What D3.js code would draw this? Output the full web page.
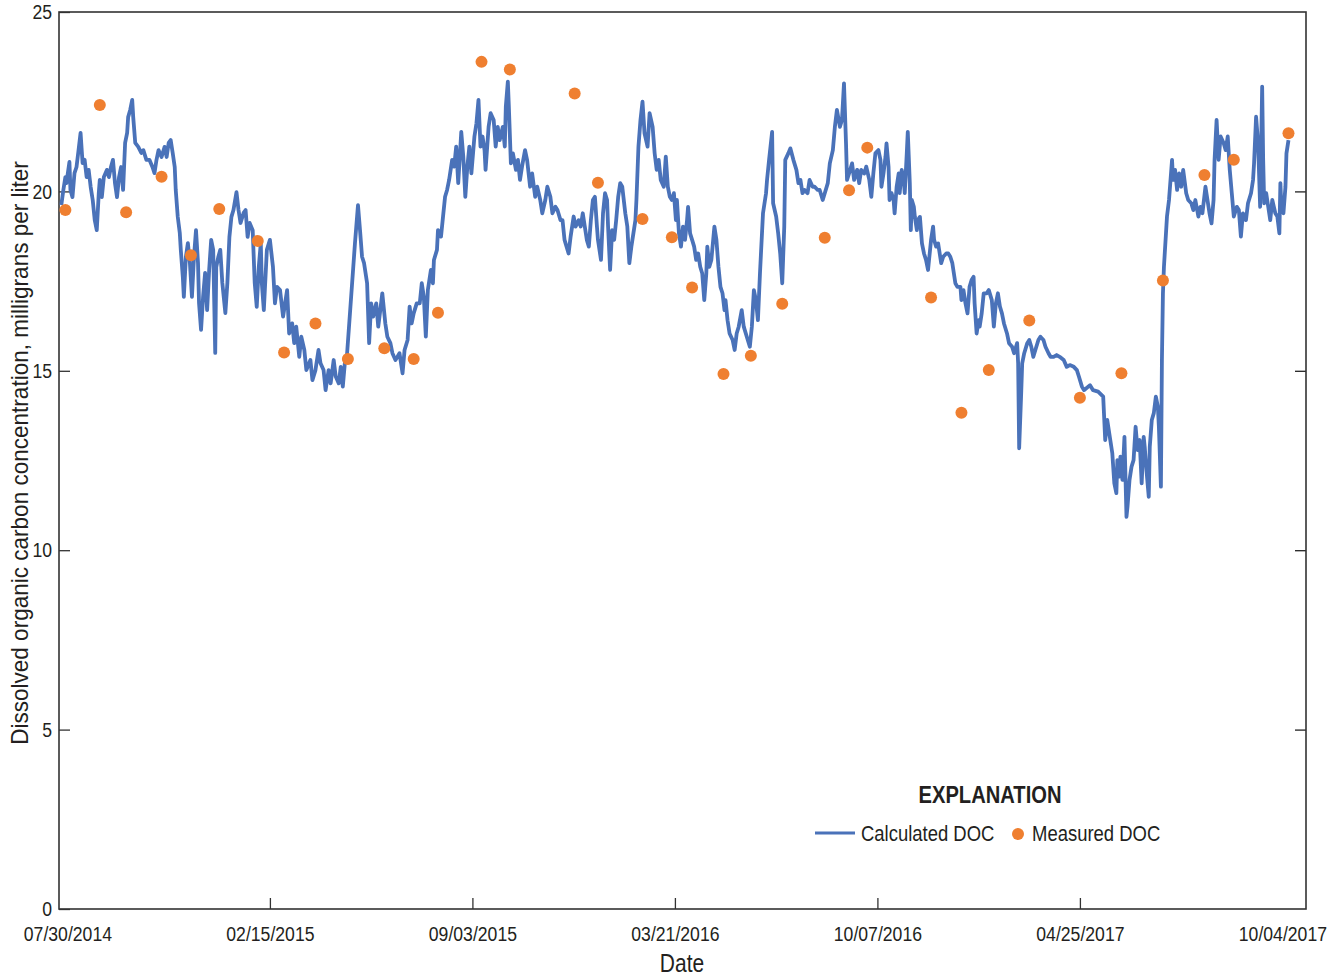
<!DOCTYPE html>
<html>
<head>
<meta charset="utf-8">
<script src="https://cdn.jsdelivr.net/npm/d3@7"></script>
<style>
  body { margin: 0; background: #fff; }
  svg text { font-family: "Liberation Sans", Arial, sans-serif; fill: #231f20; }
</style>
</head>
<body>
<script>
// day offsets are counted from 07/30/2014
var tickLabels = ["07/30/2014", "02/15/2015", "09/03/2015", "03/21/2016", "10/07/2016", "04/25/2017", "10/04/2017"];
var yTicks = [0, 5, 10, 15, 20, 25];

// calculated DOC, [day, mg/L]
var calculatedDoc = [
  [-6,19.62],[-4,20.04],[-2,20.40],[-1,20.23],[2,20.82],[3,20.04],[5,19.84],[7,20.51],[9,20.68],[11,21.15],[13,21.63],[15,20.79],[17,20.88],[19,20.40],[21,20.60],[23,20.12],[25,19.76],[27,19.20],[29,18.92],[31,19.96],[32,20.32],[34,19.84],[36,20.40],[39,20.60],[41,20.40],[43,20.68],[45,20.88],[47,20.23],[49,19.84],[51,20.40],[53,20.68],[55,20.04],[57,21.35],[59,21.63],[60,22.07],[62,22.27],[64,22.55],[65,22.07],[67,21.35],[70,21.24],[73,21.07],[75,21.15],[78,20.88],[81,20.88],[84,20.68],[86,20.51],[88,20.88],[90,21.15],[93,20.96],[96,21.24],[98,20.96],[100,21.35],[102,21.43],[104,21.07],[106,20.68],[107,20.04],[109,19.29],[111,18.84],[112,18.37],[114,17.61],[115,17.06],[117,18.17],[119,18.56],[121,18.00],[123,17.06],[125,18.17],[127,18.92],[129,18.00],[130,16.89],[132,16.14],[134,17.06],[136,17.73],[138,16.69],[140,17.81],[142,18.65],[144,18.37],[146,15.50],[147,17.89],[149,18.17],[151,18.37],[153,17.45],[156,16.61],[158,17.45],[160,18.73],[162,19.29],[164,19.48],[167,19.98],[169,19.48],[171,19.12],[174,19.40],[176,19.48],[178,18.73],[180,19.12],[183,18.92],[185,17.45],[187,16.78],[189,17.89],[191,18.56],[192,17.45],[194,16.69],
  [197,18.37],[200,18.65],[203,17.90],[205,16.88],[207,17.34],[210,17.25],[213,16.51],[215,16.88],[217,17.25],[219,16.04],[222,16.32],[224,15.77],[226,16.23],[229,15.39],[231,15.95],[234,15.58],[236,15.02],[240,15.30],[242,14.74],[245,15.02],[248,15.58],[250,15.21],[253,15.02],[255,14.46],[258,15.02],[260,14.65],[263,15.30],[265,14.84],[268,14.65],[270,15.11],[272,14.56],[274,15.21],[276,15.39],[284,18.55],[287,19.62],[289,18.92],[291,18.18],[293,18.00],[296,17.44],[298,15.77],[300,16.88],[302,16.51],[305,16.88],[307,16.23],[309,16.69],[311,17.16],[314,16.32],[316,15.95],[319,15.77],[321,15.49],[324,15.30],[326,15.39],[328,15.49],[331,14.93],[333,15.58],[336,15.86],[338,16.79],[340,16.32],[342,16.60],[345,16.88],[348,16.88],[350,17.44],[352,17.07],[354,15.95],[356,17.25],[359,17.81],[361,17.44],[362,18.09],[365,18.37],[366,18.92],[369,18.74],[371,19.30],[373,19.85],[375,20.04],[377,20.32],[380,20.88],[382,20.69],[384,21.25],[386,20.23],[389,21.66],[391,20.97],[393,19.85],[395,20.69],
  [397,21.25],[399,20.50],[402,21.53],[404,21.90],[406,22.55],[408,21.25],[410,21.53],[412,21.15],[413,20.60],[416,21.80],[418,22.18],[421,21.99],[423,21.25],[425,21.80],[427,21.43],[430,21.80],[432,21.25],[433,22.36],[435,23.06],[436,22.36],[438,20.78],[440,21.06],[443,20.60],[445,20.88],[447,20.32],[449,20.69],[452,21.15],[454,20.88],[457,20.13],[459,20.50],[462,19.85],[464,20.13],[467,19.76],[469,19.39],[472,19.76],[474,20.13],[477,19.85],[479,19.39],[482,19.57],[484,19.48],[487,19.20],[489,19.20],[491,18.65],[493,18.46],[495,18.27],[497,18.74],[500,19.30],[502,19.02],[505,19.20],[507,19.02],[509,19.39],[511,19.02],[513,18.65],[515,18.46],[517,19.20],[519,19.76],[521,19.85],[523,19.02],[524,18.65],[527,18.09],[529,19.39],[531,19.95],[533,19.76],[534,19.02],[536,17.81],[538,18.92],[540,18.65],[542,19.20],[544,19.85],[546,20.23],[548,20.13],[551,19.39],[553,19.02],[555,18.00],[557,18.46],[559,18.83],[561,19.20],[562,19.76],[564,21.25],[566,21.99],[568,22.50],[570,21.62],[573,21.25],[575,22.18],[578,21.80],[580,21.06],[582,20.60],[584,20.88],[586,20.32],[589,20.13],[591,20.97],[593,20.13],[595,19.85],
  [597,19.76],[599,19.95],[601,19.20],[602,19.76],[604,18.83],[606,18.46],[608,19.02],[610,18.65],[612,19.20],[613,19.57],[615,18.83],[617,18.65],[619,18.46],[621,18.09],[623,18.27],[625,17.90],[627,17.71],[629,16.97],[631,17.71],[632,18.46],[634,17.90],[636,18.09],[639,19.02],[641,18.65],[643,17.90],[645,17.34],[647,17.16],[649,16.69],[650,16.97],[652,16.41],[654,16.04],[657,15.86],[659,15.58],[661,16.04],[663,16.23],[666,16.69],[668,16.23],[671,15.95],[674,15.67],[676,16.23],[678,17.25],[680,16.97],[682,16.41],[684,17.71],[686,18.83],[687,19.39],[690,19.95],[691,20.32],[693,20.88],[696,21.66],[697,19.67],[700,19.30],[702,18.83],[704,18.27],[706,17.44],[708,19.02],[709,20.88],[712,21.06],[714,21.20],[717,20.88],[720,20.60],[722,20.23],[724,20.32],[726,19.95],[728,20.04],[731,19.95],[733,20.32],[736,20.13],[738,20.13],[741,20.04],[743,20.04],[746,19.76],[748,19.95],[751,20.23],[753,20.78],[756,21.15],[758,21.80],[760,22.27],[763,21.80],[765,21.99],[767,23.01],[769,21.34],[770,20.32],[772,20.50],[775,20.78],[777,20.32],[780,20.60],[782,20.23],[784,20.60],[787,20.50],[789,20.69],[792,20.32],[794,19.85],[796,20.50],[798,21.06],[801,21.15],
  [803,20.88],[804,20.13],[806,20.50],[808,20.97],[809,21.34],[811,20.69],[812,19.76],[814,19.95],[816,19.76],[817,19.39],[819,20.13],[821,20.50],[822,19.95],[824,20.60],[826,20.32],[827,19.95],[829,21.06],[830,21.66],[832,20.23],[833,18.92],[834,19.76],[836,19.57],[837,19.29],[839,18.92],[840,19.20],[842,19.29],[844,18.55],[846,18.27],[848,18.09],[850,17.81],[851,18.09],[853,18.65],[855,19.02],[856,18.65],[858,18.46],[860,18.55],[863,18.00],[865,18.18],[868,18.27],[870,18.27],[872,18.18],[874,18.00],[877,17.44],[879,17.34],[882,17.34],[883,16.97],[885,17.25],[887,16.88],[889,16.60],[891,17.34],[893,17.53],[895,17.62],[896,16.88],[898,16.04],[900,16.41],[901,16.23],[903,16.60],[905,17.16],[908,17.16],[910,17.25],[913,16.97],[915,16.23],[917,16.88],[919,17.16],[921,16.79],[923,16.60],[925,16.32],[928,16.04],[930,15.77],[933,15.67],[935,15.49],[938,15.77],[939,15.21],[940,12.84],[942,14.37],[943,15.21],[945,15.49],[948,15.77],[950,15.86],[952,15.67],[954,15.39],[956,15.58],[959,15.86],[961,15.95],[964,15.86],[966,15.67],[969,15.49],[971,15.39],[974,15.39],[977,15.44],[980,15.39],[984,15.30],[987,15.11],[990,15.16],[994,15.11],[997,15.02],[999,14.84],[1002,14.56],[1004,14.46],
  [1010,14.60],[1013,14.46],[1018,14.42],[1023,14.28],[1025,13.07],[1027,13.63],[1030,13.07],[1032,12.70],[1034,11.86],[1036,11.59],[1037,12.51],[1039,12.05],[1040,12.61],[1042,11.96],[1044,13.16],[1046,10.93],[1047,11.21],[1049,11.96],[1051,12.33],[1053,12.51],[1055,13.44],[1057,12.79],[1059,13.07],[1061,11.86],[1063,13.16],[1064,12.88],[1066,12.14],[1068,11.49],[1069,12.88],[1071,13.63],[1073,13.82],[1075,14.28],[1077,14.00],[1078,13.44],[1080,11.77],[1081,15.30],[1082,17.16],[1083,17.90],[1085,18.83],[1086,19.30],[1088,19.76],[1091,20.88],[1092,20.32],[1094,20.60],[1096,20.04],[1098,20.50],[1100,20.13],[1102,20.60],[1105,19.95],[1107,19.76],[1110,19.67],[1112,19.48],[1114,19.76],[1117,19.30],[1119,19.57],[1121,19.39],[1124,20.13],[1126,19.76],[1128,19.39],[1130,19.11],[1132,19.76],[1133,20.88],[1135,21.99],[1137,20.88],[1139,21.53],[1142,21.34],[1144,21.15],[1146,21.53],[1148,20.60],[1150,19.95],[1152,19.30],[1155,19.57],[1157,19.48],[1159,18.74],[1161,19.39],[1164,19.20],[1166,19.67],[1169,19.95],[1171,20.32],[1172,20.78],[1174,22.08],[1176,21.34],[1178,19.57],[1180,22.92],[1181,20.88],[1182,19.67],[1184,19.95],[1186,19.57],[1188,19.20],[1190,19.76],[1193,19.39],[1195,19.30],[1197,18.83],[1198,20.23],[1199,19.57],[1201,19.39],[1203,20.13],[1204,21.06],[1206,21.43]
];

// measured DOC, [day, mg/L]
var measuredDoc = [
  [-2,19.48],[32,22.41],[58,19.42],[93,20.41],[122,18.22],[150,19.51],[188,18.62],[214,15.51],[245,16.32],[277,15.33],[313,15.63],[342,15.33],[366,16.62],[409,23.61],[437,23.40],[501,22.73],[524,20.24],[568,19.23],[597,18.72],[617,17.32],[648,14.91],[675,15.42],[706,16.87],[748,18.71],[772,20.03],[790,21.22],[853,17.04],[883,13.83],[910,15.02],[950,16.40],[1000,14.25],[1041,14.93],[1082,17.52],[1123,20.46],[1152,20.88],[1206,21.62]
];

var DAY = 864e5;
var origin = Date.UTC(2014, 6, 30);
function toDate(day) { return new Date(origin + day * DAY); }

// squeeze text horizontally, the figure uses a condensed face
var NARROW = 0.84;

var margin = { top: 12, right: 38, bottom: 71, left: 59 },
    width = 1344 - margin.left - margin.right,
    height = 980 - margin.top - margin.bottom;

var svg = d3.select("body")
    .append("svg")
    .attr("width", 1344)
    .attr("height", 980);

var g = svg.append("g")
    .attr("transform", "translate(" + margin.left + "," + margin.top + ")");

// axis runs a little past the first and last labelled tick
var x = d3.scaleTime()
    .domain([toDate(-8.3), toDate(1223.3)])
    .range([0, width]);

var y = d3.scaleLinear()
    .domain([0, 25])
    .range([height, 0]);

var tickDates = d3.range(tickLabels.length).map(function (i) { return toDate(200 * i); });

var fmt = function (d, i) { return tickLabels[i]; };

var xAxis = g.append("g")
    .attr("transform", "translate(0," + height + ")")
    .call(d3.axisBottom(x).tickValues(tickDates).tickFormat(fmt).tickSizeInner(-11).tickSizeOuter(0).tickPadding(17));
xAxis.select(".domain").remove();
xAxis.selectAll(".tick line").attr("stroke", "#333").attr("stroke-width", 1.3)
    .filter(function (d, i) { return i === 0 || i === tickLabels.length - 1; }).remove();
xAxis.selectAll("text")
    .style("font-size", "21px")
    .attr("transform", "scale(" + NARROW + ",1)");

var yAxis = g.append("g")
    .call(d3.axisLeft(y).tickValues(yTicks).tickSizeInner(-11).tickSizeOuter(0).tickPadding(7));
yAxis.select(".domain").remove();
yAxis.selectAll(".tick line").attr("stroke", "#333").attr("stroke-width", 1.3);
yAxis.selectAll("text")
    .style("font-size", "21px")
    .attr("x", -7 / NARROW)
    .attr("transform", "scale(" + NARROW + ",1)");

var yAxisR = g.append("g")
    .attr("transform", "translate(" + width + ",0)")
    .call(d3.axisRight(y).tickValues(yTicks.slice(1, -1)).tickSizeInner(-11).tickSizeOuter(0).tickFormat(""));
yAxisR.select(".domain").remove();
yAxisR.selectAll(".tick line").attr("stroke", "#222").attr("stroke-width", 1.3);

// plot frame
g.append("rect")
    .attr("width", width)
    .attr("height", height)
    .attr("fill", "none")
    .attr("stroke", "#333")
    .attr("stroke-width", 1.6);

var line = d3.line()
    .x(function (d) { return x(toDate(d[0])); })
    .y(function (d) { return y(d[1]); });

g.append("path")
    .datum(calculatedDoc)
    .attr("fill", "none")
    .attr("stroke", "#4a72b9")
    .attr("stroke-width", 3.8)
    .attr("stroke-linejoin", "round")
    .attr("d", line);

g.selectAll(".dot")
    .data(measuredDoc)
    .enter().append("circle")
    .attr("class", "dot")
    .attr("cx", function (d) { return x(toDate(d[0])); })
    .attr("cy", function (d) { return y(d[1]); })
    .attr("r", 6)
    .attr("fill", "#ef7f30");

// text placed at (px, py) then narrowed
function label(parent, px, py, txt, size, anchor, extra, squeeze) {
    return parent.append("text")
        .attr("transform", "translate(" + px + "," + py + ")" + (extra || "") + " scale(" + (squeeze || NARROW) + ",1)")
        .attr("text-anchor", anchor)
        .style("font-size", size + "px")
        .text(txt);
}

// axis titles
label(svg, 682, 972, "Date", 25, "middle");
label(svg, 28, 453, "Dissolved organic carbon concentration, milligrans per liter", 23, "middle", " rotate(-90)", 0.98);

// legend
var legend = svg.append("g");
label(legend, 990, 803, "EXPLANATION", 24, "middle").style("font-weight", "bold");
legend.append("line")
    .attr("x1", 815).attr("x2", 855)
    .attr("y1", 833).attr("y2", 833)
    .attr("stroke", "#4a72b9")
    .attr("stroke-width", 3);
label(legend, 861, 841, "Calculated DOC", 22, "start");
legend.append("circle")
    .attr("cx", 1018).attr("cy", 834).attr("r", 6)
    .attr("fill", "#ef7f30");
label(legend, 1032, 841, "Measured DOC", 22, "start");
</script>
</body>
</html>
